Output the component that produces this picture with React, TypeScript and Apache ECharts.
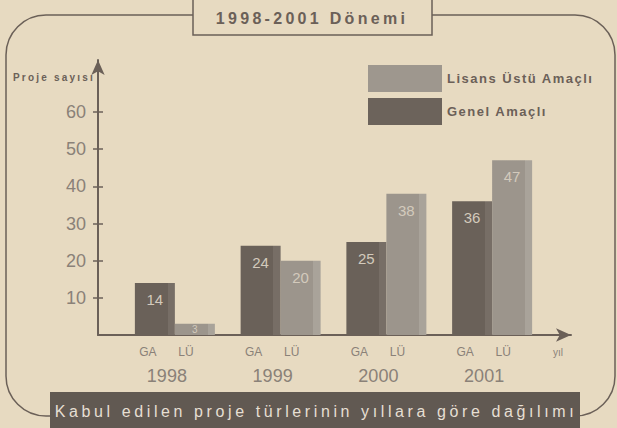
import React, { useEffect, useRef } from 'react';
import * as echarts from 'echarts';

const years = ['1998', '1999', '2000', '2001'];
const genelAmacli = [14, 24, 25, 36];
const lisansUstu = [3, 20, 38, 47];
const yTicks = [10, 20, 30, 40, 50, 60];
const seriesGA = 'Genel Amaçlı';
const seriesLU = 'Lisans Üstü Amaçlı';
const subLabels = ['GA', 'LÜ'];
const titleText = '1998-2001 Dönemi';
const captionText = 'Kabul edilen proje türlerinin yıllara göre dağılımı';
const yAxisName = 'Proje sayısı';
const xAxisName = 'yıl';

const BG = '#e7dac1';
const INK = '#6b6058';
const LIGHT = '#8a8178';
const GA_COLOR = '#6c635b';
const LU_COLOR = '#9e978e';
const FONT = '"Liberation Sans", Arial, sans-serif';

const spacing: Record<string, string> = {
  [titleText]: '3.3px',
  [captionText]: '3.6px',
  [seriesGA]: '1.5px',
  [seriesLU]: '1.5px',
  [yAxisName]: '2.2px',
};

export default function App() {
  const ref = useRef<HTMLDivElement>(null);
  useEffect(() => {
    if (!ref.current) return;
    const chart = echarts.init(ref.current, null, { renderer: 'svg' });
    const barLabel = {
      show: true,
      position: 'insideTop',
      distance: 9,
      color: '#d3cabc',
      fontSize: 15,
      fontFamily: FONT,
    };
    const withSmallLabels = (arr: number[]) =>
      arr.map((v) => (v < 5 ? { value: v, label: { position: 'inside', fontSize: 10, distance: 0 } } : v));
    const grad = (a: string, b: string) => ({
      type: 'linear', x: 0, y: 0, x2: 1, y2: 0,
      colorStops: [
        { offset: 0, color: a }, { offset: 0.82, color: a },
        { offset: 0.82, color: b }, { offset: 1, color: b },
      ],
    });
    chart.setOption({
      animation: false,
      backgroundColor: BG,
      textStyle: { fontFamily: FONT },
      grid: [
        { left: 98, right: 46, top: 60, bottom: 93 },
        { left: 122, right: 72, top: 60, bottom: 93 },
      ],
      legend: {
        orient: 'vertical',
        left: 363,
        top: 60,
        itemWidth: 74,
        itemHeight: 27,
        itemGap: 6,
        icon: 'rect',
        selectedMode: false,
        textStyle: { fontSize: 13, fontWeight: 'bold', color: INK, fontFamily: FONT },
        data: [
          { name: seriesLU, itemStyle: { color: LU_COLOR } },
          { name: seriesGA, itemStyle: { color: GA_COLOR } },
        ],
      },
      xAxis: [
        {
          gridIndex: 0, type: 'value', min: 0, max: 1,
          axisLine: { show: true, lineStyle: { color: INK, width: 2 }, symbol: ['none', 'arrow'], symbolSize: [10, 15] },
          axisTick: { show: false }, axisLabel: { show: false }, splitLine: { show: false },
        },
        {
          gridIndex: 1, type: 'category', data: years,
          axisLine: { show: false }, axisTick: { show: false },
          axisLabel: {
            margin: 7,
            padding: [0, 16, 0, 0],
            formatter: (v: string) => `{ga|${subLabels[0]}}{lu|${subLabels[1]}}\n{yr|${v}}`,
            rich: {
              ga: { width: 38, align: 'center', fontSize: 12, lineHeight: 20, color: LIGHT, fontFamily: FONT },
              lu: { width: 38, align: 'center', fontSize: 12, lineHeight: 20, color: LIGHT, fontFamily: FONT },
              yr: { align: 'center', fontSize: 18, lineHeight: 28, color: LIGHT, fontFamily: FONT },
            },
          },
        },
      ],
      yAxis: [
        {
          gridIndex: 0, type: 'value', min: 0, max: 74, position: 'left',
          axisLine: { show: true, lineStyle: { color: INK, width: 2 }, symbol: ['none', 'arrow'], symbolSize: [10, 15] },
          axisTick: { show: true, length: 5, lineStyle: { color: INK, width: 1.5 }, customValues: yTicks },
          axisLabel: { customValues: yTicks, fontSize: 18, color: LIGHT, margin: 12, fontFamily: FONT },
          splitLine: { show: false },
        },
        {
          gridIndex: 0, type: 'value', min: 0, max: 74, position: 'left', offset: 0,
          axisLine: { show: false },
          axisTick: { show: true, inside: true, length: 5, lineStyle: { color: INK, width: 1.5 }, customValues: yTicks },
          axisLabel: { show: false }, splitLine: { show: false },
        },
        { gridIndex: 1, type: 'value', min: 0, max: 74, show: false },
      ],
      series: [
        {
          name: seriesGA, type: 'bar', xAxisIndex: 1, yAxisIndex: 2, data: withSmallLabels(genelAmacli),
          barWidth: 40, barGap: '0%',
          itemStyle: { color: grad('#6a6159', '#776e66') },
          label: barLabel,
        },
        {
          name: seriesLU, type: 'bar', xAxisIndex: 1, yAxisIndex: 2, data: withSmallLabels(lisansUstu),
          barWidth: 40, barGap: '0%',
          itemStyle: { color: grad('#9c958c', '#a9a39a') },
          label: barLabel,
        },
      ],
      graphic: [
        { type: 'rect', shape: { x: 6, y: 15, width: 609, height: 401, r: 40 }, style: { fill: 'none', stroke: INK, lineWidth: 1.5 }, silent: true },
        { type: 'rect', shape: { x: 193, y: -2, width: 239, height: 37 }, style: { fill: BG, stroke: INK, lineWidth: 1.5 }, silent: true },
        { type: 'text', x: 312, y: 18, style: { text: titleText, fill: INK, font: `bold 16px ${FONT}`, textAlign: 'center', textVerticalAlign: 'middle' } },
        { type: 'rect', shape: { x: 50, y: 392, width: 530, height: 40 }, style: { fill: '#615952' }, silent: true },
        { type: 'text', x: 316, y: 411, style: { text: captionText, fill: '#e6dfd3', font: `16px ${FONT}`, textAlign: 'center', textVerticalAlign: 'middle' } },
        { type: 'text', x: 13, y: 77, style: { text: yAxisName, fill: INK, font: `bold 10px ${FONT}`, textAlign: 'left', textVerticalAlign: 'middle' } },
        { type: 'text', x: 553, y: 352, style: { text: xAxisName, fill: LIGHT, font: `10px ${FONT}`, textAlign: 'left', textVerticalAlign: 'middle' } },
      ],
    });
    const applySpacing = () => {
      ref.current?.querySelectorAll('text').forEach((t) => {
        const s = spacing[t.textContent || ''];
        if (s) (t as SVGTextElement).style.letterSpacing = s;
      });
    };
    applySpacing();
    chart.on('finished', applySpacing);
    return () => chart.dispose();
  }, []);
  return (
    <div
      ref={ref}
      style={{ position: 'fixed', left: 0, top: 0, width: 617, height: 428 }}
    />
  );
}
